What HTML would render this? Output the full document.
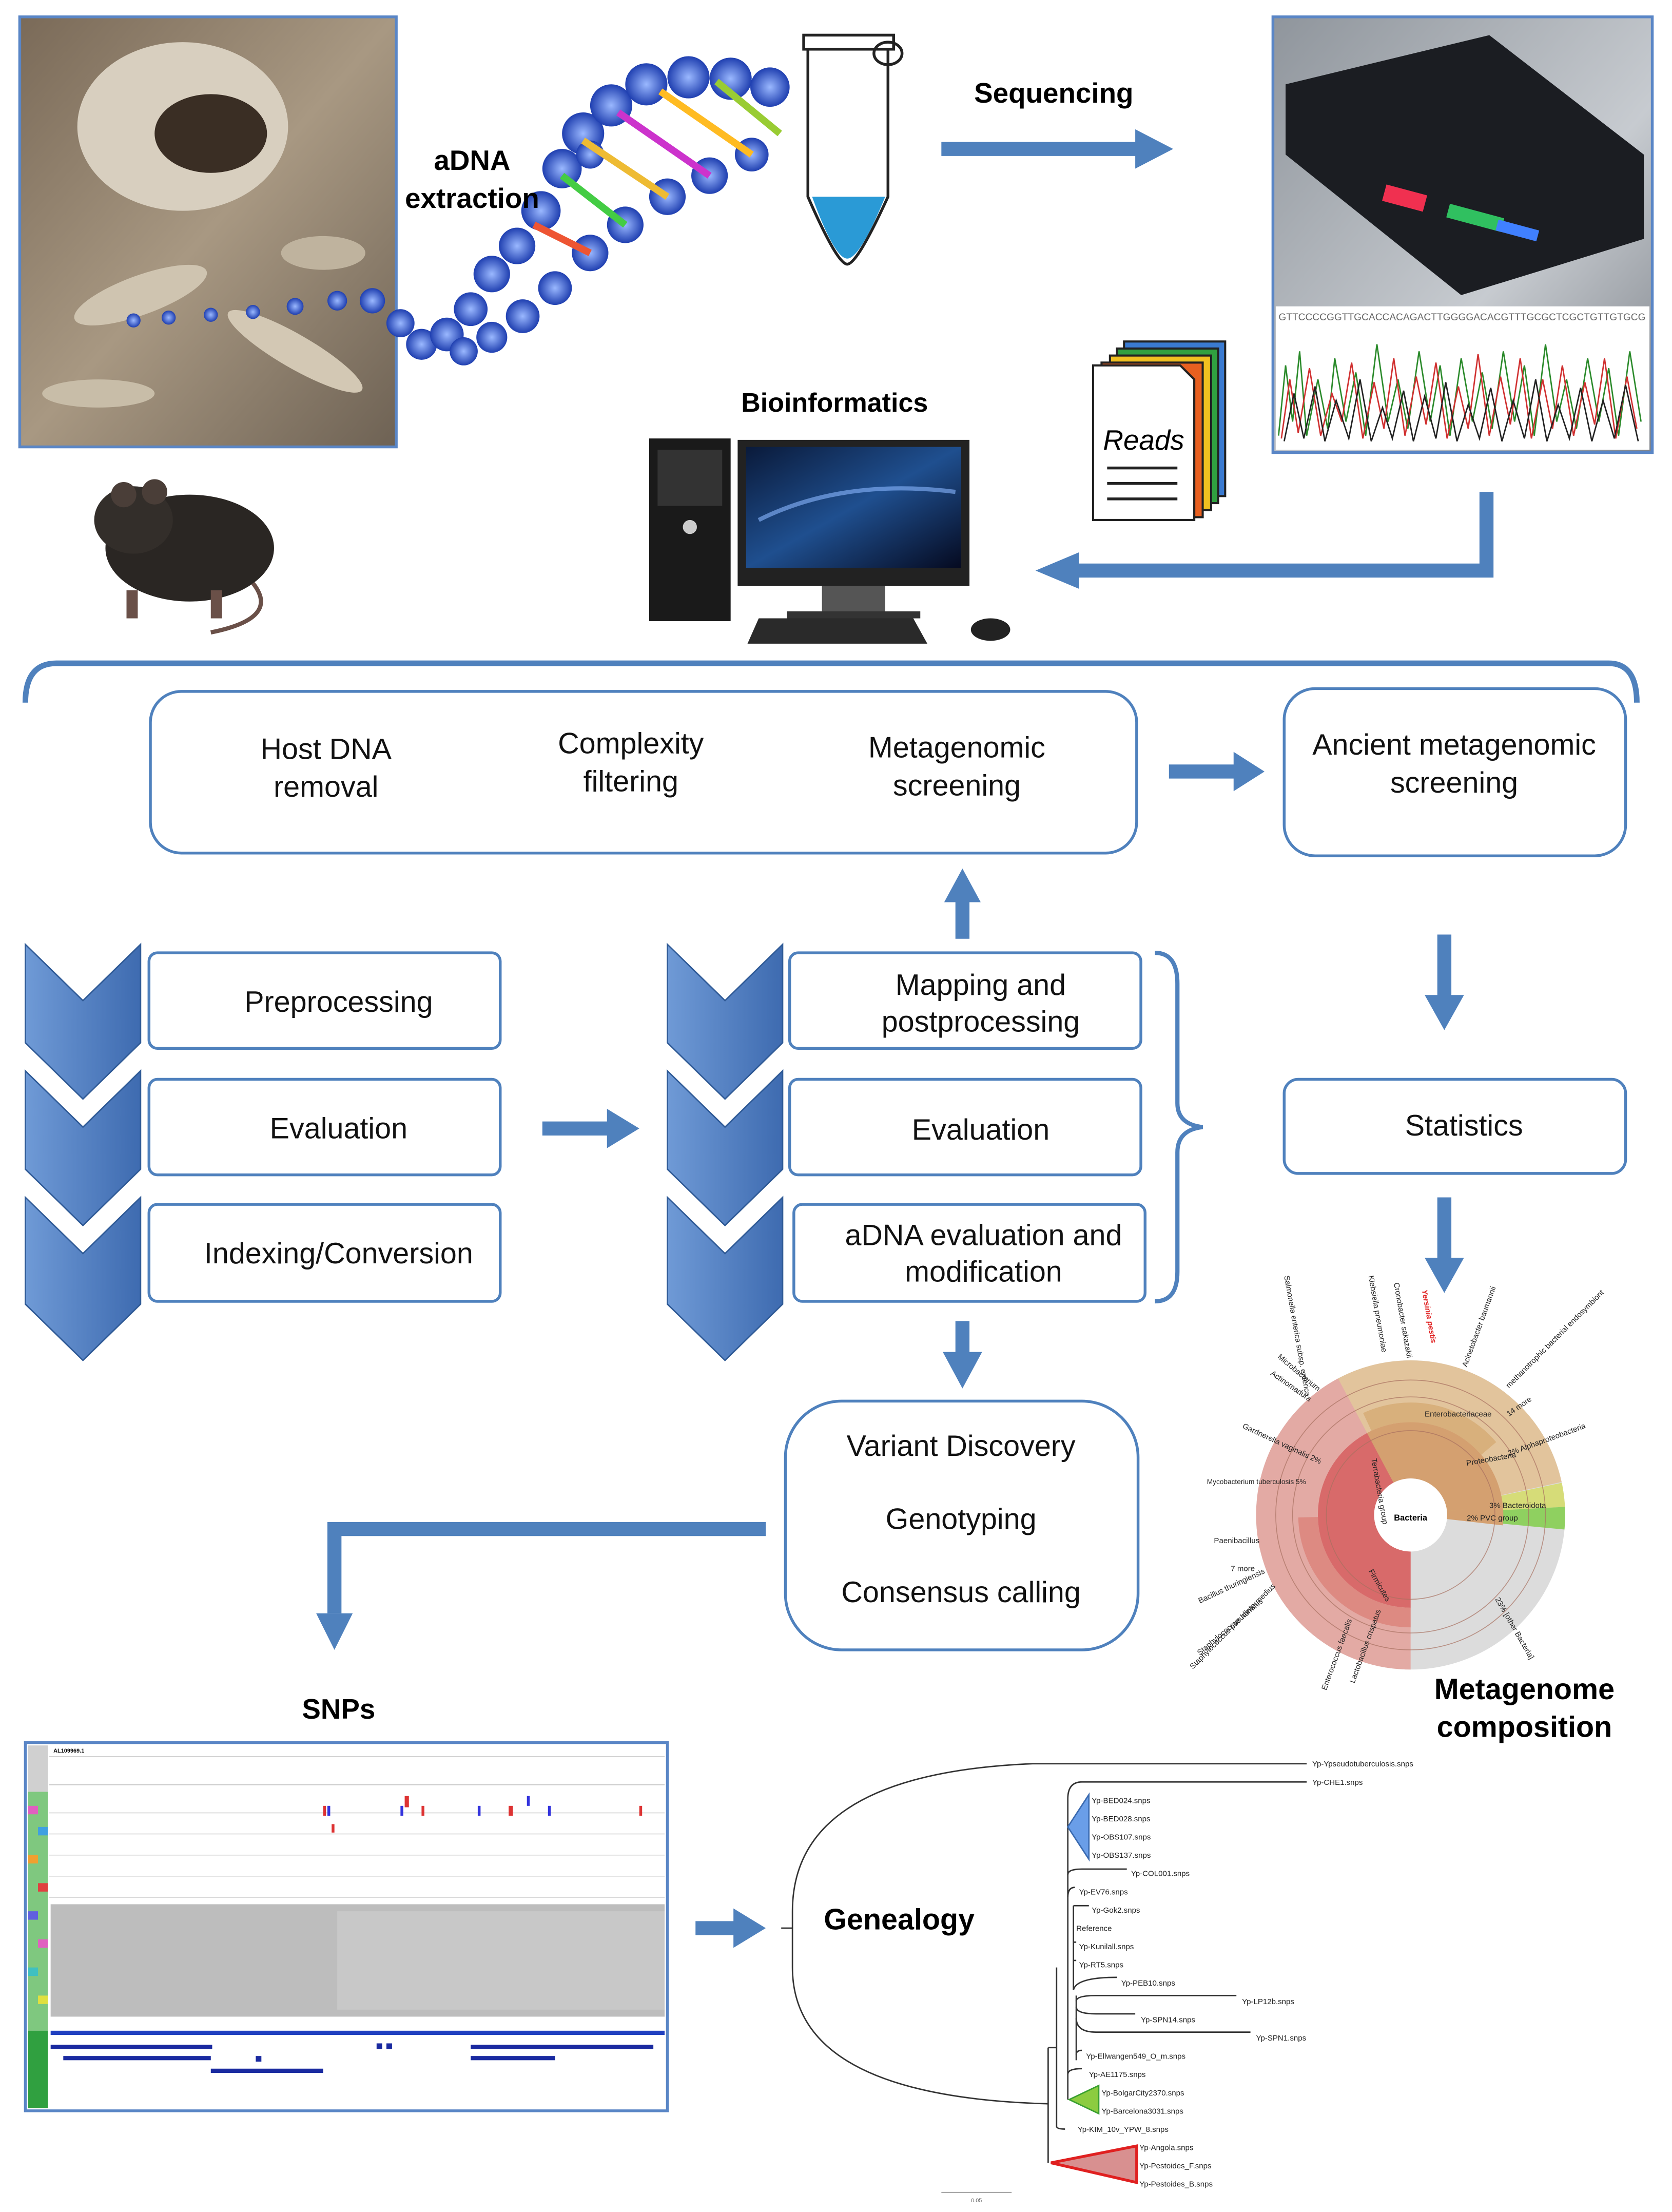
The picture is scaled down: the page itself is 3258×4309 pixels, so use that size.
<!DOCTYPE html>
<html><head><meta charset="utf-8"><style>
html,body{margin:0;padding:0;background:#fff}
svg{display:block}
text{font-family:"Liberation Sans",Arial,sans-serif}
</style></head><body>
<svg width="3258" height="4309" viewBox="0 0 1190 1574" xmlns="http://www.w3.org/2000/svg">
<defs>
<linearGradient id="chev" x1="0" y1="0" x2="1" y2="0"><stop offset="0" stop-color="#6f9ad6"/><stop offset="1" stop-color="#3e6bb0"/></linearGradient>
<linearGradient id="photo" x1="0" y1="0" x2="1" y2="1"><stop offset="0" stop-color="#7a6a58"/><stop offset=".5" stop-color="#a89882"/><stop offset="1" stop-color="#6e6254"/></linearGradient>
<linearGradient id="seq" x1="0" y1="0" x2="1" y2="1"><stop offset="0" stop-color="#8f959c"/><stop offset=".6" stop-color="#c7cbd0"/><stop offset="1" stop-color="#7d8289"/></linearGradient>
<radialGradient id="bead"><stop offset="0" stop-color="#9ab8ff"/><stop offset="1" stop-color="#1f3fb0"/></radialGradient>
<linearGradient id="scr" x1="0" y1="0" x2="1" y2="1"><stop offset="0" stop-color="#0a1a3a"/><stop offset=".5" stop-color="#1f4f8f"/><stop offset="1" stop-color="#050a20"/></linearGradient>
</defs>

<!-- skull photo -->
<rect x="14" y="12" width="268" height="306" fill="url(#photo)" stroke="#5a86c6" stroke-width="2"/>
<ellipse cx="130" cy="90" rx="75" ry="60" fill="#d8cfbf"/>
<ellipse cx="150" cy="95" rx="40" ry="28" fill="#3a2e24"/>
<ellipse cx="100" cy="210" rx="50" ry="14" fill="#cfc4b0" transform="rotate(-20 100 210)"/>
<ellipse cx="210" cy="250" rx="55" ry="12" fill="#d3c8b4" transform="rotate(30 210 250)"/>
<ellipse cx="70" cy="280" rx="40" ry="10" fill="#c8bda8"/>
<ellipse cx="230" cy="180" rx="30" ry="12" fill="#bfb39e"/>

<!-- DNA helix -->
<g fill="url(#bead)">
<circle cx="95" cy="228" r="5"/><circle cx="120" cy="226" r="5"/><circle cx="150" cy="224" r="5"/><circle cx="180" cy="222" r="5"/><circle cx="210" cy="218" r="6"/><circle cx="240" cy="214" r="7"/><circle cx="265" cy="214" r="9"/><circle cx="285" cy="230" r="10"/><circle cx="300" cy="245" r="11"/><circle cx="318" cy="238" r="12"/><circle cx="335" cy="220" r="12"/><circle cx="350" cy="195" r="13"/><circle cx="368" cy="175" r="13"/><circle cx="385" cy="150" r="14"/><circle cx="400" cy="120" r="14"/><circle cx="415" cy="95" r="15"/><circle cx="435" cy="75" r="15"/><circle cx="460" cy="60" r="15"/><circle cx="490" cy="55" r="15"/><circle cx="520" cy="56" r="15"/><circle cx="548" cy="62" r="14"/>
<circle cx="330" cy="250" r="10"/><circle cx="350" cy="240" r="11"/><circle cx="372" cy="225" r="12"/><circle cx="395" cy="205" r="12"/><circle cx="420" cy="180" r="13"/><circle cx="445" cy="160" r="13"/><circle cx="475" cy="140" r="13"/><circle cx="505" cy="125" r="13"/><circle cx="535" cy="110" r="12"/><circle cx="420" cy="110" r="10"/>
</g>
<g stroke-width="5">
<line x1="380" y1="160" x2="420" y2="180" stroke="#e53"/><line x1="400" y1="125" x2="445" y2="160" stroke="#4c4"/><line x1="415" y1="100" x2="475" y2="140" stroke="#eb3"/><line x1="440" y1="80" x2="505" y2="125" stroke="#c3c"/><line x1="470" y1="65" x2="535" y2="110" stroke="#fb2"/><line x1="510" y1="58" x2="555" y2="95" stroke="#9c3"/>
</g>
<!-- tube -->
<path d="M575,30 L632,30 L632,140 Q610,188 603,188 Q596,188 575,140 Z" fill="#fff" stroke="#222" stroke-width="2"/>
<path d="M578,140 L630,140 Q612,184 603,184 Q594,184 578,140 Z" fill="#2a9ad6"/>
<rect x="572" y="25" width="64" height="10" fill="#fff" stroke="#222" stroke-width="2"/>
<ellipse cx="632" cy="38" rx="10" ry="8" fill="none" stroke="#222" stroke-width="2"/>
<text x="336" y="121" font-size="20" font-weight="bold" text-anchor="middle">aDNA</text>
<text x="336" y="148" font-size="20" font-weight="bold" text-anchor="middle">extraction</text>
<text x="750" y="73" font-size="20" font-weight="bold" text-anchor="middle">Sequencing</text>
<path d="M670,101 L808,101 L808,92 L835,106 L808,120 L808,111 L670,111 Z" fill="#4f81bd"/>

<!-- sequencer photo -->
<rect x="906" y="12" width="270" height="310" fill="url(#seq)" stroke="#5a86c6" stroke-width="2"/>
<path d="M915,60 L1060,25 L1170,110 L1170,170 L1040,210 L915,110 Z" fill="#1b1d22"/>
<rect x="985" y="135" width="30" height="12" fill="#f03050" transform="rotate(15 1000 140)"/>
<rect x="1030" y="150" width="40" height="10" fill="#30c060" transform="rotate(15 1050 155)"/>
<rect x="1065" y="160" width="30" height="8" fill="#4080ff" transform="rotate(15 1080 164)"/>
<rect x="908" y="218" width="266" height="102" fill="#fff"/>
<text x="910" y="228" font-size="7" fill="#666" font-family="Liberation Mono">GTTCCCCGGTTGCACCACAGACTTGGGGACACGTTTGCGCTCGCTGTTGTGCG</text>
<polyline points="910,310 915,260 920,300 925,250 930,310 938,270 945,305 950,255 958,300 965,265 972,310 980,245 988,300 995,270 1002,305 1010,250 1018,300 1025,260 1032,310 1040,255 1048,300 1055,265 1062,305 1070,250 1078,300 1085,260 1092,310 1100,245 1108,300 1115,270 1122,305 1130,255 1138,300 1145,262 1152,310 1160,250 1168,300" fill="none" stroke="#2a8a2a" stroke-width="1"/>
<polyline points="912,312 918,270 924,308 932,262 940,310 948,280 955,300 962,258 970,312 978,272 985,305 992,255 1000,310 1008,268 1015,302 1022,258 1030,312 1038,275 1045,305 1052,252 1060,310 1068,268 1075,302 1082,255 1090,312 1098,270 1105,305 1112,260 1120,310 1128,272 1135,302 1142,255 1150,312 1158,268 1165,305" fill="none" stroke="#d03030" stroke-width="1"/>
<polyline points="914,314 921,280 928,312 936,275 943,314 951,285 960,312 968,270 976,314 984,290 991,312 999,278 1006,314 1014,282 1022,312 1029,272 1037,314 1045,288 1053,312 1061,276 1069,314 1077,285 1085,312 1093,270 1101,314 1109,288 1117,312 1125,276 1133,314 1141,285 1149,312 1157,274 1166,314" fill="none" stroke="#222" stroke-width="1"/>

<!-- reads docs -->
<g stroke="#222" stroke-width="1.5">
<rect x="800" y="243" width="72" height="110" fill="#3a7ad0"/>
<rect x="795" y="248" width="72" height="110" fill="#30a040"/>
<rect x="790" y="253" width="72" height="110" fill="#f0c020"/>
<rect x="784" y="258" width="72" height="110" fill="#e86020"/>
<path d="M778,260 L840,260 L850,270 L850,370 L778,370 Z" fill="#fff"/>
</g>
<text x="814" y="320" font-size="20" font-style="italic" text-anchor="middle">Reads</text>
<g stroke="#222" stroke-width="2"><line x1="788" y1="333" x2="838" y2="333"/><line x1="788" y1="344" x2="838" y2="344"/><line x1="788" y1="355" x2="838" y2="355"/></g>

<text x="594" y="293" font-size="19" font-weight="bold" text-anchor="middle">Bioinformatics</text>
<!-- computer -->
<rect x="462" y="312" width="58" height="130" fill="#1a1a1a"/>
<rect x="468" y="320" width="46" height="40" fill="#333"/>
<circle cx="491" cy="375" r="5" fill="#ccc"/>
<rect x="525" y="313" width="165" height="104" fill="#222"/>
<rect x="531" y="318" width="153" height="86" fill="url(#scr)"/>
<path d="M540,370 Q600,340 680,350" stroke="#8ab8ff" stroke-width="3" fill="none" opacity=".6"/>
<rect x="585" y="417" width="45" height="20" fill="#555"/>
<rect x="560" y="435" width="95" height="5" fill="#333"/>
<path d="M540,440 L650,440 L660,458 L532,458 Z" fill="#2a2a2a"/>
<ellipse cx="705" cy="448" rx="14" ry="8" fill="#222"/>

<!-- rat -->
<ellipse cx="135" cy="390" rx="60" ry="38" fill="#2a2623"/>
<ellipse cx="95" cy="370" rx="28" ry="24" fill="#332e2a"/>
<circle cx="88" cy="352" r="9" fill="#4a3e38"/>
<circle cx="110" cy="350" r="9" fill="#4a3e38"/>
<path d="M180,415 Q200,440 150,450" stroke="#6a5048" stroke-width="3" fill="none"/>
<rect x="90" y="420" width="8" height="20" fill="#6a5048"/><rect x="150" y="420" width="8" height="20" fill="#6a5048"/>

<!-- return arrow -->
<path d="M1058,350 L1058,406 L765,406" fill="none" stroke="#4f81bd" stroke-width="10"/>
<path d="M768,393 L737,406 L768,419 Z" fill="#4f81bd"/>

<!-- big brace -->
<path d="M18,500 Q18,472 40,472 L1145,472 Q1165,472 1165,500" fill="none" stroke="#4f81bd" stroke-width="4"/>

<!-- boxes -->
<g fill="#fff" stroke="#4f81bd" stroke-width="2">
<rect x="107" y="492" width="702" height="115" rx="22"/>
<rect x="914" y="490" width="243" height="119" rx="22"/>
<rect x="914" y="768" width="243" height="67" rx="10"/>
<rect x="106" y="678" width="250" height="68" rx="6"/>
<rect x="106" y="768" width="250" height="68" rx="6"/>
<rect x="106" y="857" width="250" height="69" rx="6"/>
<rect x="559" y="997" width="251" height="177" rx="40"/>
</g>
<g font-size="21" text-anchor="middle" fill="#111">
<text x="232" y="540">Host DNA</text><text x="232" y="567">removal</text>
<text x="449" y="536">Complexity</text><text x="449" y="563">filtering</text>
<text x="681" y="539">Metagenomic</text><text x="681" y="566">screening</text>
<text x="1035" y="537">Ancient metagenomic</text><text x="1035" y="564">screening</text>
<text x="1042" y="808">Statistics</text>
<text x="241" y="720">Preprocessing</text>
<text x="241" y="810">Evaluation</text>
<text x="241" y="899">Indexing/Conversion</text>
<text x="684" y="1036">Variant Discovery</text>
<text x="684" y="1088">Genotyping</text>
<text x="684" y="1140">Consensus calling</text>
</g>

<!-- chevrons -->
<g fill="url(#chev)" stroke="#2f5a96" stroke-width="1">
<path d="M18,672 L59,712 L100,672 L100,742 L59,782 L18,742 Z"/>
<path d="M18,762 L59,802 L100,762 L100,832 L59,872 L18,832 Z"/>
<path d="M18,852 L59,892 L100,852 L100,928 L59,968 L18,928 Z"/>
<path d="M475,672 L516,712 L557,672 L557,742 L516,782 L475,742 Z"/>
<path d="M475,762 L516,802 L557,762 L557,832 L516,872 L475,832 Z"/>
<path d="M475,852 L516,892 L557,852 L557,928 L516,968 L475,928 Z"/>
</g>
<g fill="#fff" stroke="#4f81bd" stroke-width="2">
<rect x="562" y="678" width="250" height="68" rx="6"/>
<rect x="562" y="768" width="250" height="68" rx="6"/>
<rect x="565" y="857" width="250" height="69" rx="6"/>
</g>
<g font-size="21" text-anchor="middle" fill="#111">
<text x="698" y="708">Mapping and</text><text x="698" y="734">postprocessing</text>
<text x="698" y="811">Evaluation</text>
<text x="700" y="886">aDNA evaluation and</text><text x="700" y="912">modification</text>
</g>
<path d="M822,678 Q838,678 838,700 L838,785 Q838,800 856,802 Q838,804 838,820 L838,905 Q838,926 822,926" fill="none" stroke="#4f81bd" stroke-width="3"/>

<!-- arrows -->
<g fill="#4f81bd">
<path d="M832,544 L878,544 L878,535 L900,549 L878,563 L878,554 L832,554 Z"/>
<path d="M386,798 L432,798 L432,789 L455,803 L432,817 L432,808 L386,808 Z"/>
<path d="M680,668 L680,642 L672,642 L685,618 L698,642 L690,642 L690,668 Z"/>
<path d="M1023,665 L1023,708 L1014,708 L1028,733 L1042,708 L1033,708 L1033,665 Z"/>
<path d="M1023,852 L1023,895 L1014,895 L1028,920 L1042,895 L1033,895 L1033,852 Z"/>
<path d="M680,940 L680,962 L671,962 L685,988 L699,962 L690,962 L690,940 Z"/>
<path d="M495,1367 L522,1367 L522,1358 L545,1372 L522,1386 L522,1377 L495,1377 Z"/>
</g>
<path d="M545,1088 L238,1088 L238,1148" fill="none" stroke="#4f81bd" stroke-width="10"/>
<path d="M225,1148 L238,1174 L251,1148 Z" fill="#4f81bd"/>

<!-- Krona -->
<g transform="translate(1004,1078)">
<circle r="68" fill="none" stroke="#dcdcdc" stroke-width="84"/>
<g fill="none" stroke-width="84">
<circle r="68" stroke="#e3aaa4" stroke-dasharray="180.6 427.26" transform="rotate(90)"/>
<circle r="68" stroke="#e2c49c" stroke-dasharray="125.4 427.26" transform="rotate(-118)"/>
<circle r="68" stroke="#d6dc78" stroke-dasharray="10.7 427.26" transform="rotate(-12)"/>
<circle r="68" stroke="#8fd060" stroke-dasharray="10 427.26" transform="rotate(-3)"/>
</g>
<g fill="none" stroke-width="40">
<circle r="46" stroke="#d86a6a" stroke-dasharray="150.6 289" transform="rotate(90)"/>
<circle r="46" stroke="#d4a070" stroke-dasharray="90 289" transform="rotate(-118)"/>
<circle r="46" stroke="#d4a070" stroke-dasharray="10 289" transform="rotate(-6)"/>
</g>
<g fill="none" stroke-width="14">
<circle r="73" stroke="#dd8a82" stroke-dasharray="113 459" transform="rotate(90)"/>
<circle r="73" stroke="#d8b07c" stroke-dasharray="95 459" transform="rotate(-115)"/>
</g>
<g fill="none" stroke="#a87060" stroke-width=".6" opacity=".7">
<circle r="60"/><circle r="84"/><circle r="96"/>
</g>
<circle r="26" fill="#fff"/>
<text x="0" y="4" font-size="6" font-weight="bold" text-anchor="middle">Bacteria</text>
<g font-size="5.5" fill="#222">
<text x="-145" y="-22" font-size="5">Mycobacterium tuberculosis 5%</text>
<text x="-140" y="20">Paenibacillus</text>
<text x="-128" y="40">7 more</text>
<text x="-150" y="63" transform="rotate(-25 -150 63)">Bacillus thuringiensis</text>
<text x="-150" y="100" transform="rotate(-40 -150 100)">Staphylococcus hominis</text>
<text x="-155" y="110" transform="rotate(-45 -155 110)">Staphylococcus pseudintermedius</text>
<text x="-120" y="-62" transform="rotate(25 -120 -62)">Gardnerella vaginalis 2%</text>
<text x="-100" y="-100" transform="rotate(35 -100 -100)">Actinomadura</text>
<text x="-95" y="-112" transform="rotate(40 -95 -112)">Microbacterium</text>
<text x="56" y="-5">3% Bacteroidota</text>
<text x="40" y="4">2% PVC group</text>
<text x="70" y="-42" transform="rotate(-20 70 -42)">2% Alphaproteobacteria</text>
<text x="70" y="-70" transform="rotate(-35 70 -70)">14 more</text>
<text x="40" y="-35" transform="rotate(-10 40 -35)">Proteobacteria</text>
<text x="10" y="-70">Enterobacteriaceae</text>
<text x="60" y="60" transform="rotate(60 60 60)">23% [other Bacteria]</text>
<text x="-30" y="40" transform="rotate(60 -30 40)">Firmicutes</text>
<text x="-28" y="-40" transform="rotate(80 -28 -40)">Terrabacteria group</text>
<text x="-40" y="120" transform="rotate(-70 -40 120)">Lactobacillus crispatus</text>
<text x="-60" y="125" transform="rotate(-70 -60 125)">Enterococcus faecalis</text>
<text x="-90" y="-170" transform="rotate(80 -90 -170)">Salmonella enterica subsp. enterica</text>
<text x="-30" y="-170" transform="rotate(80 -30 -170)">Klebsiella pneumoniae</text>
<text x="-12" y="-165" transform="rotate(80 -12 -165)">Cronobacter sakazakii</text>
<text x="8" y="-160" fill="#e02020" font-weight="bold" font-style="italic" transform="rotate(80 8 -160)">Yersinia pestis</text>
<text x="40" y="-105" transform="rotate(-70 40 -105)">Acinetobacter baumannii</text>
<text x="70" y="-90" transform="rotate(-45 70 -90)">methanotrophic bacterial endosymbiont</text>
</g>
</g>
<text x="1085" y="1209" font-size="21" font-weight="bold" text-anchor="middle">Metagenome</text>
<text x="1085" y="1236" font-size="21" font-weight="bold" text-anchor="middle">composition</text>

<!-- SNPs -->
<text x="241" y="1223" font-size="20" font-weight="bold" text-anchor="middle">SNPs</text>
<rect x="18" y="1240" width="457" height="262" fill="#fff" stroke="#5a86c6" stroke-width="2"/>
<rect x="20" y="1242" width="14" height="258" fill="#d0d0d0"/>
<g>
<rect x="20" y="1275" width="14" height="170" fill="#7fc87f"/>
<rect x="20" y="1285" width="7" height="6" fill="#e060c0"/><rect x="27" y="1300" width="7" height="6" fill="#40a0e0"/><rect x="20" y="1320" width="7" height="6" fill="#f0a030"/><rect x="27" y="1340" width="7" height="6" fill="#e04040"/><rect x="20" y="1360" width="7" height="6" fill="#6060e0"/><rect x="27" y="1380" width="7" height="6" fill="#e060c0"/><rect x="20" y="1400" width="7" height="6" fill="#40c0c0"/><rect x="27" y="1420" width="7" height="6" fill="#e0e040"/>
<rect x="20" y="1445" width="14" height="55" fill="#30a040"/>
</g>
<g stroke="#bbb" stroke-width=".5">
<line x1="35" y1="1250" x2="473" y2="1250"/><line x1="35" y1="1270" x2="473" y2="1270"/>
<line x1="35" y1="1290" x2="473" y2="1290"/><line x1="35" y1="1305" x2="473" y2="1305"/><line x1="35" y1="1320" x2="473" y2="1320"/><line x1="35" y1="1335" x2="473" y2="1335"/><line x1="35" y1="1350" x2="473" y2="1350"/>
</g>
<text x="38" y="1247" font-size="4" font-weight="bold">AL109969.1</text>
<rect x="36" y="1355" width="437" height="80" fill="#bdbdbd"/>
<rect x="240" y="1360" width="233" height="70" fill="#c8c8c8"/>
<g fill="#d33"><rect x="230" y="1285" width="2" height="7"/><rect x="288" y="1278" width="3" height="8"/><rect x="300" y="1285" width="2" height="7"/><rect x="362" y="1285" width="3" height="7"/><rect x="236" y="1298" width="2" height="6"/><rect x="455" y="1285" width="2" height="7"/></g>
<g fill="#33d"><rect x="233" y="1285" width="2" height="7"/><rect x="285" y="1285" width="2" height="7"/><rect x="375" y="1278" width="2" height="7"/><rect x="390" y="1285" width="2" height="7"/><rect x="340" y="1285" width="2" height="7"/></g>
<rect x="36" y="1445" width="437" height="3" fill="#2040c0"/>
<g fill="#1a2aa0">
<rect x="36" y="1455" width="115" height="3"/><rect x="45" y="1463" width="105" height="3"/><rect x="150" y="1472" width="80" height="3"/><rect x="335" y="1455" width="130" height="3"/><rect x="335" y="1463" width="60" height="3"/><rect x="268" y="1454" width="4" height="4"/><rect x="275" y="1454" width="4" height="4"/><rect x="182" y="1463" width="4" height="4"/>
</g>

<!-- Genealogy -->
<text x="640" y="1373" font-size="21" font-weight="bold" text-anchor="middle">Genealogy</text>
<g fill="none" stroke="#333" stroke-width="1">
<line x1="556" y1="1372" x2="564" y2="1372"/>
<path d="M930,1255 L735,1255 Q564,1262 564,1360 L564,1400 Q564,1492 746,1497"/>
<line x1="746" y1="1457" x2="746" y2="1539"/>
<path d="M752,1400 L752,1513 Q752,1515 758,1515"/>
<path d="M746,1457 L752,1457"/>
<path d="M930,1268 L770,1268 Q760,1268 760,1280 L760,1494"/>
<path d="M760,1334 Q760,1330 770,1330 L802,1330"/>
<path d="M760,1350 Q760,1343 765,1343"/>
<path d="M764,1356 Q766,1356 775,1356"/>
<line x1="764" y1="1356" x2="764" y2="1416"/>
<path d="M764,1382 L766,1382"/><path d="M764,1395 L766,1395"/>
<path d="M764,1416 Q766,1407 795,1407"/>
<line x1="766" y1="1420" x2="766" y2="1466"/>
<path d="M766,1424 Q766,1420 780,1420 L880,1420"/>
<path d="M766,1428 Q766,1433 780,1433 L808,1433"/>
<path d="M766,1436 Q766,1446 780,1446 L890,1446"/>
<path d="M766,1462 Q766,1459 770,1459"/>
<path d="M760,1476 Q760,1472 770,1472"/>
</g>
<path d="M775,1277 L760,1300 L775,1323 Z" fill="#6a9ee8" stroke="#3a6ab0"/>
<path d="M782,1484 L761,1494 L782,1504 Z" fill="#8ccc40" stroke="#3aa030"/>
<path d="M809,1527 L748,1539 L809,1553 Z" fill="#d89090" stroke="#e02020" stroke-width="2"/>
<g font-size="5.5" fill="#222" font-family="Liberation Sans Narrow, Liberation Sans, sans-serif">
<text x="934" y="1257">Yp-Ypseudotuberculosis.snps</text>
<text x="934" y="1270">Yp-CHE1.snps</text>
<text x="777" y="1283">Yp-BED024.snps</text>
<text x="777" y="1296">Yp-BED028.snps</text>
<text x="777" y="1309">Yp-OBS107.snps</text>
<text x="777" y="1322">Yp-OBS137.snps</text>
<text x="805" y="1335">Yp-COL001.snps</text>
<text x="768" y="1348">Yp-EV76.snps</text>
<text x="777" y="1361">Yp-Gok2.snps</text>
<text x="766" y="1374">Reference</text>
<text x="768" y="1387">Yp-Kunilall.snps</text>
<text x="768" y="1400">Yp-RT5.snps</text>
<text x="798" y="1413">Yp-PEB10.snps</text>
<text x="884" y="1426">Yp-LP12b.snps</text>
<text x="812" y="1439">Yp-SPN14.snps</text>
<text x="894" y="1452">Yp-SPN1.snps</text>
<text x="773" y="1465">Yp-Ellwangen549_O_m.snps</text>
<text x="775" y="1478">Yp-AE1175.snps</text>
<text x="784" y="1491">Yp-BolgarCity2370.snps</text>
<text x="784" y="1504">Yp-Barcelona3031.snps</text>
<text x="767" y="1517">Yp-KIM_10v_YPW_8.snps</text>
<text x="811" y="1530">Yp-Angola.snps</text>
<text x="811" y="1543">Yp-Pestoides_F.snps</text>
<text x="811" y="1556">Yp-Pestoides_B.snps</text>
</g>
<line x1="670" y1="1560" x2="720" y2="1560" stroke="#888" stroke-width=".6"/>
<text x="695" y="1567" font-size="4" text-anchor="middle" fill="#666">0.05</text>
</svg>
</body></html>
